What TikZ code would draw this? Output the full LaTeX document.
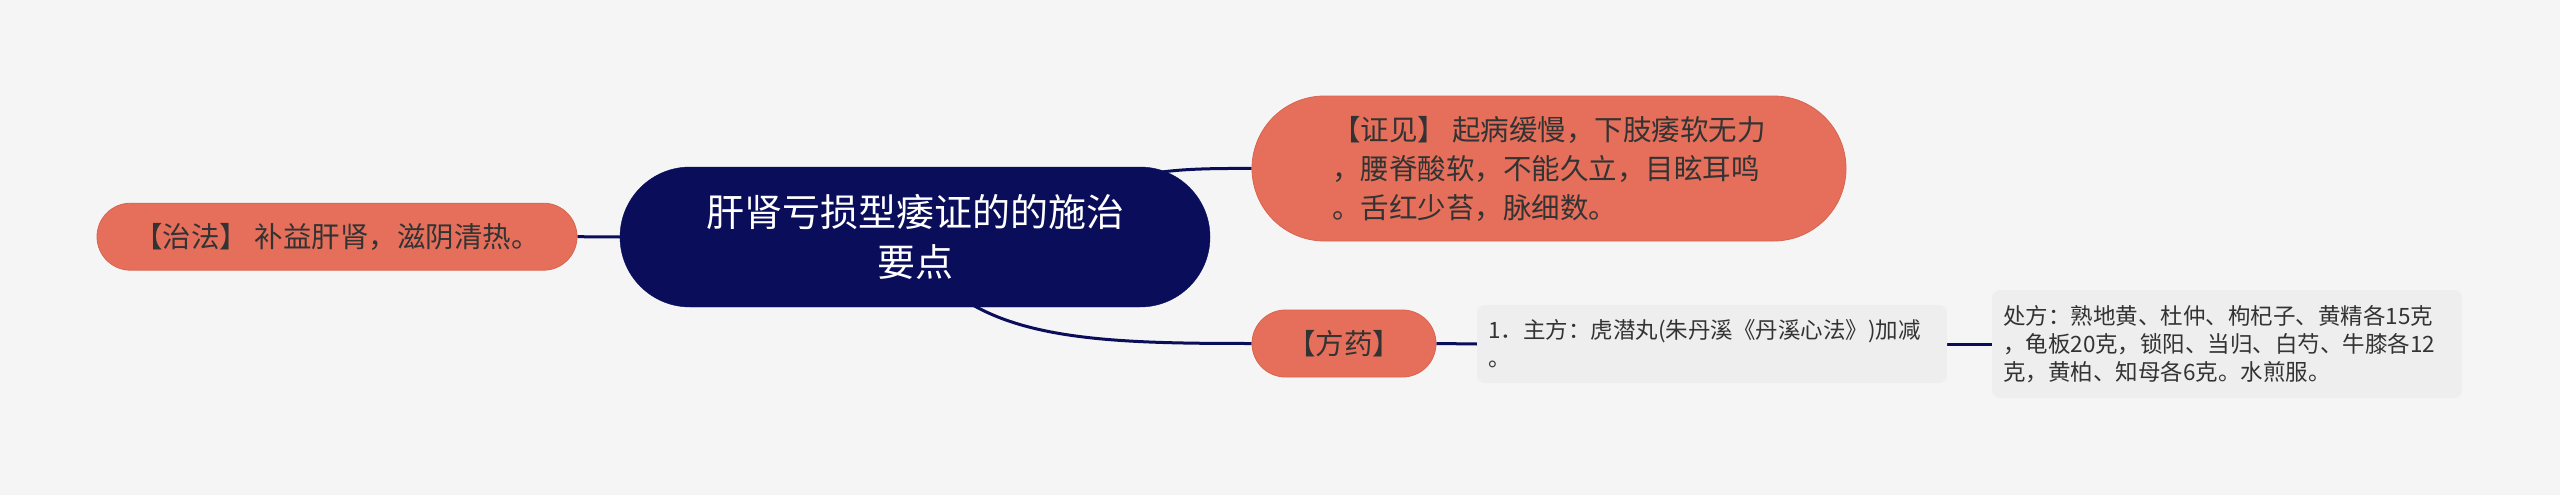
\documentclass[tikz,border=0pt]{standalone}
\usepackage{fontspec}
\newfontfamily\cjk{Noto Sans CJK SC}
\pgfdeclarelayer{bg}
\pgfsetlayers{bg,main}
\definecolor{bgcol}{HTML}{F5F5F5}
\definecolor{coral}{HTML}{E56F5A}
\definecolor{coraldark}{HTML}{D8644F}
\definecolor{navy}{HTML}{0A0E5A}
\definecolor{txt}{HTML}{333333}
\definecolor{boxcol}{HTML}{EEEEEE}
\tikzset{
  pill/.style={fill=coral, draw=coraldark, line width=0.8pt, inner sep=0pt, text=txt,
    font=\cjk\fontsize{28.5}{39}\selectfont},
  rootbox/.style={fill=navy, draw=navy, inner sep=0pt, text=white, align=center,
    rounded corners=70pt, minimum width=590pt, minimum height=140pt,
    font=\cjk\fontsize{38}{50}\selectfont},
  itembox/.style={fill=boxcol, draw=none, rounded corners=8pt, inner xsep=11pt, inner ysep=0pt,
    text width=448pt, align=left, text=txt, minimum width=470pt,
    font=\cjk\fontsize{22.5}{27.8}\selectfont},
  conn/.style={draw=navy, line width=3pt}
}
\begin{document}
\begin{tikzpicture}[x=1pt,y=-1pt]
\begin{pgfonlayer}{bg}
\fill[bgcol] (0,0) rectangle (2560,495);
\end{pgfonlayer}
\useasboundingbox (0,0) rectangle (2560,495);

\node[pill, rounded corners=33.5pt, minimum width=480pt, minimum height=67pt] (zf) at (337,236.7)
  {【治法】 补益肝肾，滋阴清热。};
\node[rootbox] (root) at (915,237) {肝肾亏损型痿证的的施治\\要点};
\node[pill, rounded corners=72.5pt, minimum width=594pt, minimum height=145pt, align=left] (zj) at (1549,168.5)
  {【证见】 起病缓慢，下肢痿软无力\\，腰脊酸软，不能久立，目眩耳鸣\\。舌红少苔，脉细数。};
\node[pill, rounded corners=33.5pt, minimum width=184pt, minimum height=67pt] (fy) at (1344,343.5)
  {【方药】};
\node[itembox, minimum height=78pt] (i1) at (1712,344)
  {1．主方：虎潜丸(朱丹溪《丹溪心法》)加减\\。};
\node[itembox, minimum height=108pt] (i2) at (2227,344)
  {处方：熟地黄、杜仲、枸杞子、黄精各15克\\，龟板20克，锁阳、当归、白芍、牛膝各12\\克，黄柏、知母各6克。水煎服。};

\begin{pgfonlayer}{bg}
\draw[conn] (zf.east) -- (root.west);
\draw[conn] ([xshift=135pt]root.center) .. controls (1100,172) and (1150,168) .. (zj.west);
\draw[conn] ([xshift=15pt,yshift=-33pt]root.center) .. controls (990,340) and (1100,343.5) .. (fy.west);
\draw[conn] (fy.east) -- (i1.west);
\draw[conn] (i1.east) -- (i2.west);
\end{pgfonlayer}
\end{tikzpicture}
\end{document}
